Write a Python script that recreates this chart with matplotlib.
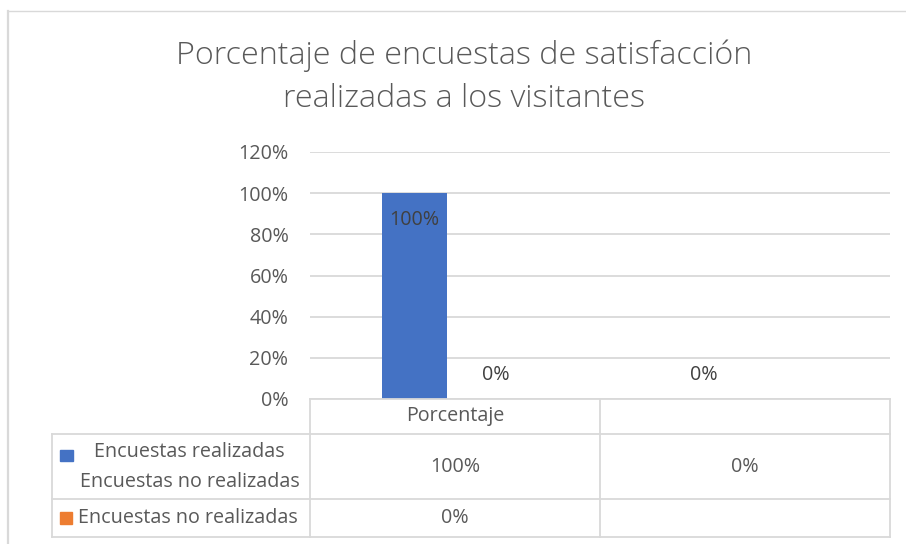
import matplotlib
matplotlib.use("Agg")
import matplotlib.pyplot as plt
from matplotlib.patches import Rectangle
from matplotlib.lines import Line2D

# ---- data ----
categories = ["Porcentaje", ""]
series_names = ["Encuestas realizadas\nEncuestas no realizadas", "Encuestas no realizadas"]
series1 = [100, 0]        # Encuestas realizadas
series2 = [0, None]       # Encuestas no realizadas
y_ticks = [0, 20, 40, 60, 80, 100, 120]
title_lines = ["Porcentaje de encuestas de satisfacción", "realizadas a los visitantes"]

colors = ["#4472C4", "#ED7D31"]
txt = "#595959"
grid = "#D9D9D9"
FONT = "Open Sans"
FS = 14.2

W, H = 906, 544
fig = plt.figure(figsize=(W / 100, H / 100), dpi=100)

def fx(px):
    return px / W

def fy(py):
    return 1 - py / H

# plot area
x0, x1, ytop, ybot = 310, 890, 152, 399
ax = fig.add_axes([fx(x0), fy(ybot), fx(x1 - x0), (ybot - ytop) / H])
ax.set_xlim(-0.5, 1.5)
ax.set_ylim(0, 120)
for s in ax.spines.values():
    s.set_visible(False)
ax.set_yticks(y_ticks)
ax.set_yticklabels([f"{t}%" for t in y_ticks], fontsize=FS, color=txt, family=FONT)
ax.tick_params(axis="y", length=0, pad=15.5)
ax.set_xticks([])
ax.yaxis.grid(True, color=grid, linewidth=1.3)
ax.set_axisbelow(True)

bw = 0.224
off = 0.141
xs = list(range(len(categories)))
for si, (vals, c) in enumerate(zip([series1, series2], colors)):
    for xi, v in zip(xs, vals):
        if v is None:
            continue
        xpos = xi + (-off if si == 0 else off)
        ax.bar(xpos, v, width=bw, color=c, zorder=2)
        dy = -19 if v > 0 else 17
        ax.annotate(f"{v}%", (xpos, v), xytext=(0, dy), textcoords="offset points",
                    ha="center", va="center", fontsize=FS, color="#404040", family=FONT)

# title
fig.text(fx(464), fy(56), title_lines[0], ha="center", va="center", fontsize=23.2,
         color=txt, family=FONT, fontweight="light")
fig.text(fx(464), fy(99), title_lines[1], ha="center", va="center", fontsize=23.2,
         color=txt, family=FONT, fontweight="light")

# outer border
fig.add_artist(Line2D([fx(7.5), fx(7.5)], [fy(11), fy(544)], color=grid, linewidth=1.6))
fig.add_artist(Line2D([fx(7.5), fx(906)], [fy(11), fy(11)], color=grid, linewidth=1.0))

# data table
col_x = [52, 310, 600, 890]
row_y = [399, 434, 499, 537]
def hline(y, xa, xb):
    fig.add_artist(Line2D([fx(xa), fx(xb)], [fy(y), fy(y)], color=grid, linewidth=1.3))
def vline(x, ya, yb):
    fig.add_artist(Line2D([fx(x), fx(x)], [fy(ya), fy(yb)], color=grid, linewidth=1.3))

hline(row_y[0], col_x[1], col_x[3])
for y in row_y[1:]:
    hline(y, col_x[0], col_x[3])
vline(col_x[0], row_y[1], row_y[3])
for x in col_x[1:]:
    vline(x, row_y[0], row_y[3])

# header
for ci, cat in enumerate(categories):
    cx = (col_x[ci + 1] + col_x[ci + 2]) / 2
    fig.text(fx(cx), fy((row_y[0] + row_y[1]) / 2), cat, ha="center", va="center",
             fontsize=FS, color=txt, family=FONT)

# rows
for si, (vals, c) in enumerate(zip([series1, series2], colors)):
    ya, yb = row_y[si + 1], row_y[si + 2]
    cy = (ya + yb) / 2
    for ci, v in enumerate(vals):
        if v is None:
            continue
        cx = (col_x[ci + 1] + col_x[ci + 2]) / 2
        fig.text(fx(cx), fy(cy), f"{v}%", ha="center", va="center",
                 fontsize=FS, color=txt, family=FONT)
    if si == 0:
        fig.add_artist(Rectangle((fx(60), fy(461)), fx(13), 11 / H, color=c, transform=fig.transFigure))
        lines = series_names[si].split("\n")
        fig.text(fx(94), fy(452), lines[0], ha="left", va="center", fontsize=FS, color=txt, family=FONT)
        fig.text(fx(80), fy(482), lines[1], ha="left", va="center", fontsize=FS, color=txt, family=FONT)
    else:
        fig.add_artist(Rectangle((fx(60), fy(524)), fx(12), 12 / H, color=c, transform=fig.transFigure))
        fig.text(fx(78), fy(518), series_names[si], ha="left", va="center", fontsize=FS, color=txt, family=FONT)

fig.savefig("out.png", dpi=100, facecolor="white")
